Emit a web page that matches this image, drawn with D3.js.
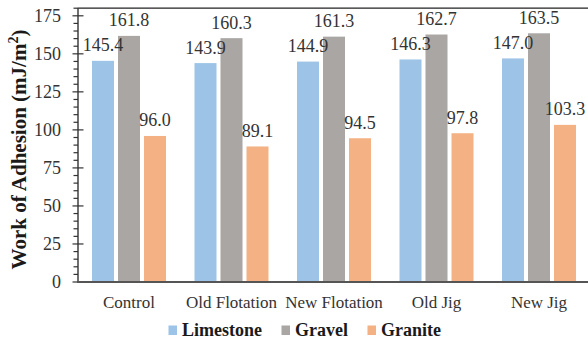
<!DOCTYPE html>
<html><head><meta charset="utf-8">
<script src="https://cdn.jsdelivr.net/npm/d3@7"></script>
<style>
html,body{margin:0;padding:0;background:#fff;}
svg{display:block;}
</style></head>
<body>
<svg id="c" width="588" height="343" font-family="'Liberation Serif', 'Times New Roman', Times, 'DejaVu Serif', serif"></svg>
<script>
const categories = ["Control", "Old Flotation", "New Flotation", "Old Jig", "New Jig"];
const seriesNames = ["Limestone", "Gravel", "Granite"];
const limestone = [145.4, 143.9, 144.9, 146.3, 147.0];
const gravel = [161.8, 160.3, 161.3, 162.7, 163.5];
const granite = [96.0, 89.1, 94.5, 97.8, 103.3];
const yTicks = [0, 25, 50, 75, 100, 125, 150, 175];
const colors = ["#9DC3E6", "#A9A6A4", "#F4B183"];

const seriesValues = [limestone, gravel, granite];
const svg = d3.select("#c");

const x = d3.scaleBand().domain(categories).range([77.75, 590.25]).paddingInner(0).paddingOuter(0);
const xi = d3.scaleBand().domain(seriesNames).range([14.25, 88.25]).paddingInner(4/26).paddingOuter(0);
const y = d3.scaleLinear().domain([0, 180]).range([282, 8.2]);

// top frame line
svg.append("line").attr("x1", x.range()[0]).attr("x2", 588)
  .attr("y1", y(180)).attr("y2", y(180)).attr("stroke", "#222").attr("stroke-width", 1.2);

// bars
const barsG = svg.append("g");
const labelsG = svg.append("g");
seriesNames.forEach((s, si) => {
  barsG.append("g").selectAll("rect").data(categories).join("rect")
    .attr("x", c => x(c) + xi(s))
    .attr("width", xi.bandwidth())
    .attr("y", (c, i) => y(seriesValues[si][i]))
    .attr("height", (c, i) => y(0) - y(seriesValues[si][i]))
    .attr("fill", colors[si]);
  labelsG.append("g").selectAll("text").data(categories).join("text")
    .attr("x", c => x(c) + xi(s) + xi.bandwidth() / 2)
    .attr("y", (c, i) => y(seriesValues[si][i]) - 9.5)
    .attr("text-anchor", "middle")
    .attr("font-size", 18)
    .attr("fill", "#333")
    .text((c, i) => seriesValues[si][i].toFixed(1));
});

// y axis: minor ticks
const minor = d3.range(0, 181, 5).filter(v => v % 25 !== 0);
const yAxis = svg.append("g");
yAxis.selectAll("line.minor").data(minor).join("line")
  .attr("class", "minor")
  .attr("x1", 73.5).attr("x2", 78).attr("y1", d => y(d)).attr("y2", d => y(d))
  .attr("stroke", "#333").attr("stroke-width", 1.2);
yAxis.selectAll("line.major").data(yTicks).join("line")
  .attr("class", "major")
  .attr("x1", 72.5).attr("x2", 83.5).attr("y1", d => y(d)).attr("y2", d => y(d))
  .attr("stroke", "#333").attr("stroke-width", 1.2);
yAxis.append("line").attr("x1", 78).attr("x2", 78).attr("y1", y(180)).attr("y2", y(0))
  .attr("stroke", "#333").attr("stroke-width", 1.4);
yAxis.selectAll("text").data(yTicks).join("text")
  .attr("x", 61).attr("y", d => y(d)).attr("dy", "0.35em")
  .attr("text-anchor", "end").attr("font-size", 18).attr("fill", "#333")
  .text(d => d);

// x axis
svg.append("line").attr("x1", 77).attr("x2", 588).attr("y1", y(0)).attr("y2", y(0))
  .attr("stroke", "#555").attr("stroke-width", 2);
svg.append("g").selectAll("text").data(categories).join("text")
  .attr("x", c => x(c) + x.bandwidth() / 2).attr("y", 308)
  .attr("text-anchor", "middle").attr("font-size", 17).attr("fill", "#333")
  .text(c => c);

// y title
const yt = svg.append("text")
  .attr("transform", "translate(25.5,149.5) rotate(-90)")
  .attr("text-anchor", "middle").attr("font-size", 21).attr("font-weight", "bold").attr("fill", "#1a1a1a");
yt.append("tspan").text("Work of Adhesion (mJ/m");
yt.append("tspan").attr("font-size", 14).attr("dy", -8).text("2");
yt.append("tspan").attr("dy", 8).text(")");

// legend
const leg = svg.append("g");
let lx = 168.5;
seriesNames.forEach((s, i) => {
  leg.append("rect").attr("x", lx).attr("y", 325.5).attr("width", 8.5).attr("height", 9.5).attr("fill", colors[i]);
  const t = leg.append("text").attr("x", lx + 13.5).attr("y", 336).attr("font-size", 18)
    .attr("font-weight", "bold").attr("fill", "#1a1a1a").text(s);
  lx += 13.5 + t.node().getComputedTextLength() + 19.5;
});
</script>
</body></html>
